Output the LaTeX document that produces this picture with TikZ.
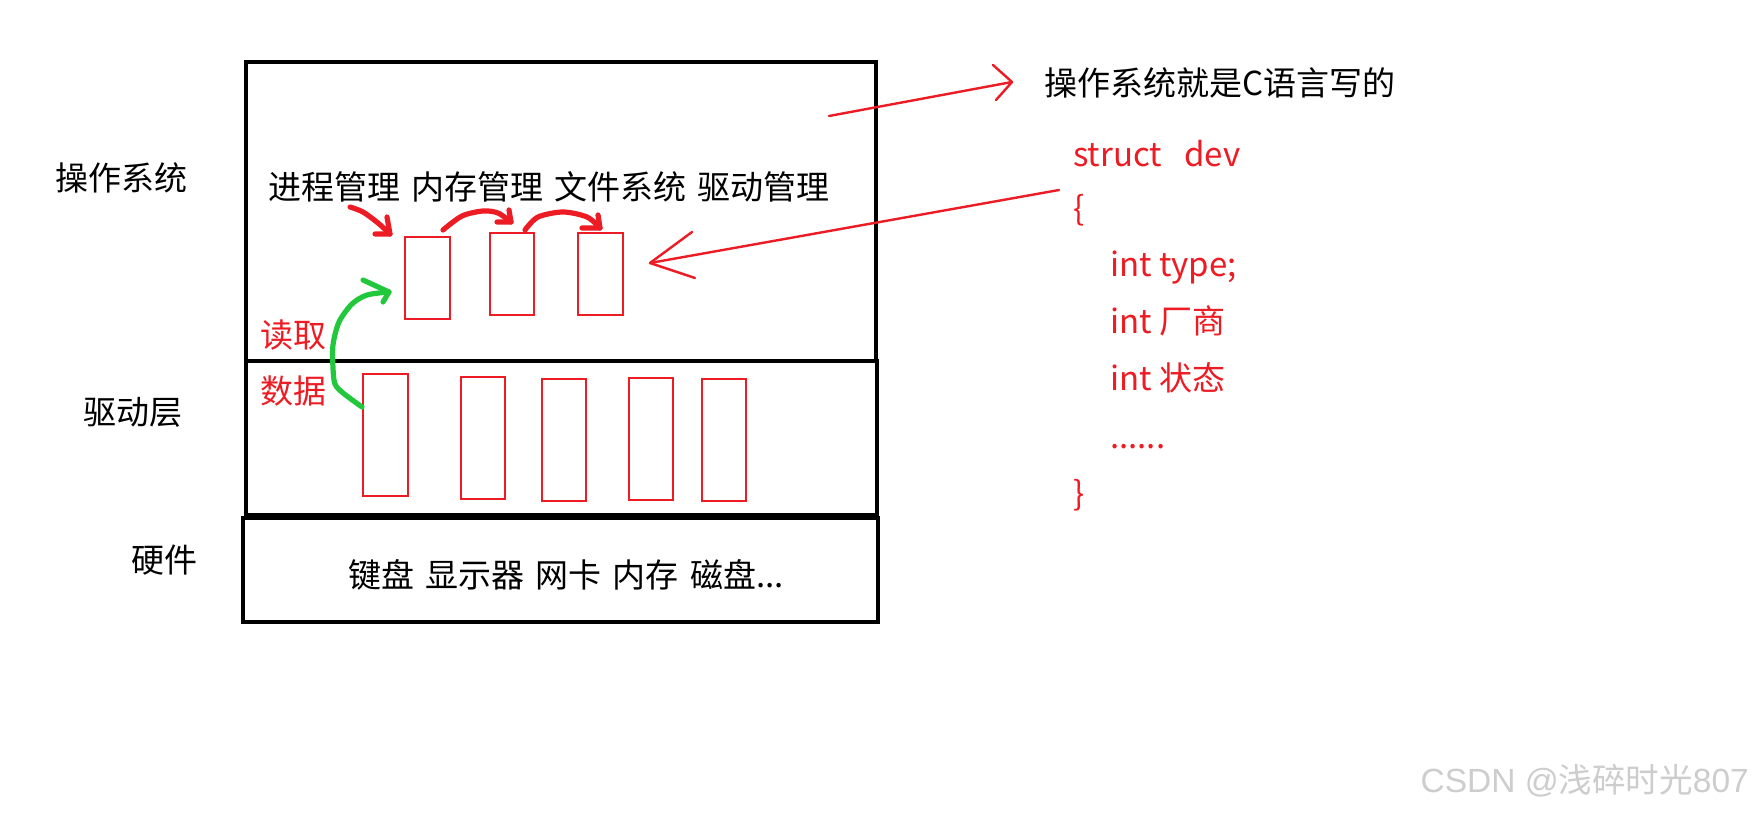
\documentclass[tikz,border=0pt]{standalone}
\usepackage{fontspec}
\setmainfont{Noto Sans CJK SC}
\newfontfamily\wmlatin{Liberation Sans}
\usetikzlibrary{arrows.meta,calc}
\definecolor{pred}{RGB}{237,28,36}
\definecolor{pgreen}{RGB}{34,200,60}
\definecolor{wmark}{RGB}{205,205,205}
\newcommand\mylblfont{\fontsize{33}{40}\selectfont\spaceskip=0.34em\relax}
\tikzset{
  layer/.style={draw=black, line width=3.5pt, rectangle, inner sep=0pt},
  redbox/.style={draw=pred, line width=2.9pt, rectangle, inner sep=0pt},
  lbl/.style={font=\mylblfont, inner sep=0pt, anchor=west},
  redlbl/.style={lbl, text=pred},
  code/.style={font=\fontsize{33}{40}\selectfont, inner sep=0pt, anchor=base west, text=pred},
  thinred/.style={draw=pred, line width=2.4pt, line cap=round, line join=round},
  thickred/.style={draw=pred, line width=5.2pt, line cap=round, line join=round},
  thickgreen/.style={draw=pgreen, line width=5.2pt, line cap=round, line join=round},
}
\begin{document}
\begin{tikzpicture}[x=1pt,y=-1pt]
\useasboundingbox[fill=white] (0,0) rectangle (1753,813);

% layers
\node[layer, minimum width=630pt, minimum height=299pt] (os) at (561,211.5) {};
\node[layer, minimum width=631pt, minimum height=154pt] (drv) at (561.5,438) {};
\node[layer, minimum width=635pt, minimum height=104pt] (hw) at (560.5,570) {};

% layer labels
\node[lbl] (oslbl) at (55,178) {操作系统};
\node[lbl] (drvlbl) at (83,412) {驱动层};
\node[lbl] (hwlbl) at (131,560) {硬件};

% OS functions
\node[lbl] (funcs) at (268,187) {进程管理 内存管理 文件系统 驱动管理};

% OS red boxes
\node[redbox, minimum width=45pt, minimum height=82pt] (b1) at (427.5,278) {};
\node[redbox, minimum width=44pt, minimum height=82pt] (b2) at (512,274) {};
\node[redbox, minimum width=45pt, minimum height=82pt] (b3) at (600.5,274) {};

% driver red boxes
\node[redbox, minimum width=45pt, minimum height=122pt] (d1) at (385.5,435) {};
\node[redbox, minimum width=44pt, minimum height=122pt] (d2) at (483,438) {};
\node[redbox, minimum width=44pt, minimum height=122pt] (d3) at (564,440) {};
\node[redbox, minimum width=44pt, minimum height=122pt] (d4) at (651,439) {};
\node[redbox, minimum width=44pt, minimum height=122pt] (d5) at (724,440) {};

% hardware text
\node[lbl] (hwtext) at (348,575) {键盘 显示器 网卡 内存 磁盘...};

% red labels
\node[redlbl] (rd) at (260,335) {读取};
\node[redlbl] (sj) at (260,391) {数据};

% right texts
\node[lbl] (note) at (1044,83) {操作系统就是C语言写的};
\node[code] (c1) at (1073,167) {struct\ \ \ dev};
\node[code] (c2) at (1073,221) {\{};
\node[code] (c3) at (1110,276) {int type;};
\node[code] (c4) at (1110,333) {int 厂商};
\node[code] (c5) at (1110,390) {int 状态};
\node[code] (c6) at (1110,448) {......};
\node[code] (c7) at (1073,505) {\}};

% watermark
\node[font=\fontsize{33.5}{38}\selectfont, text=wmark, inner sep=0pt, anchor=east] (wm) at (1749,781) {{\wmlatin CSDN @}浅碎时光{\wmlatin 807}};

% thin red arrow to note
\coordinate (aS) at (829,116);
\coordinate (aT) at (1012,82);
\draw[thinred] (aS) -- (aT);
\draw[thinred] ($(aT)+(-19,-17)$) -- (aT) -- ($(aT)+(-16,18)$);

% thin red arrow from struct to box b3
\coordinate (bS) at (1059,190);
\coordinate (bT) at (650,263);
\draw[thinred] (bS) -- (bT);
\draw[thinred] ($(bT)+(42,-31)$) -- (bT) -- ($(bT)+(45,15)$);

% thick red arrows
\coordinate (r1s) at (350,207);
\coordinate (r1t) at (390,234);
\draw[thickred] plot[smooth] coordinates {(r1s) (363,212) (378,223) (r1t)};
\draw[thickred] (387,217) -- (r1t) -- (375,234);

\coordinate (r2s) at (443,230);
\coordinate (r2t) at (511,222);
\draw[thickred] plot[smooth] coordinates {(r2s) (462,216) (483,211) (498,213) (r2t)};
\draw[thickred] (509,210) -- (r2t) -- (497,222);

\coordinate (r3s) at (525,230);
\coordinate (r3t) at (600,228);
\draw[thickred] plot[smooth] coordinates {(r3s) (538,217) (563,212) (587,217) (r3t)};
\draw[thickred] (598,215) -- (r3t) -- (582,228);

% green arrow
\coordinate (gs) at (362,407);
\coordinate (gt) at (389,292);
\draw[thickgreen] plot[smooth] coordinates {(gs) (343,393) (335,384) (333,368) (333,345) (339,322) (352,304) (367,295) (gt)};
\draw[thickgreen] (363,280) -- (gt) -- (383,302);
\end{tikzpicture}
\end{document}
